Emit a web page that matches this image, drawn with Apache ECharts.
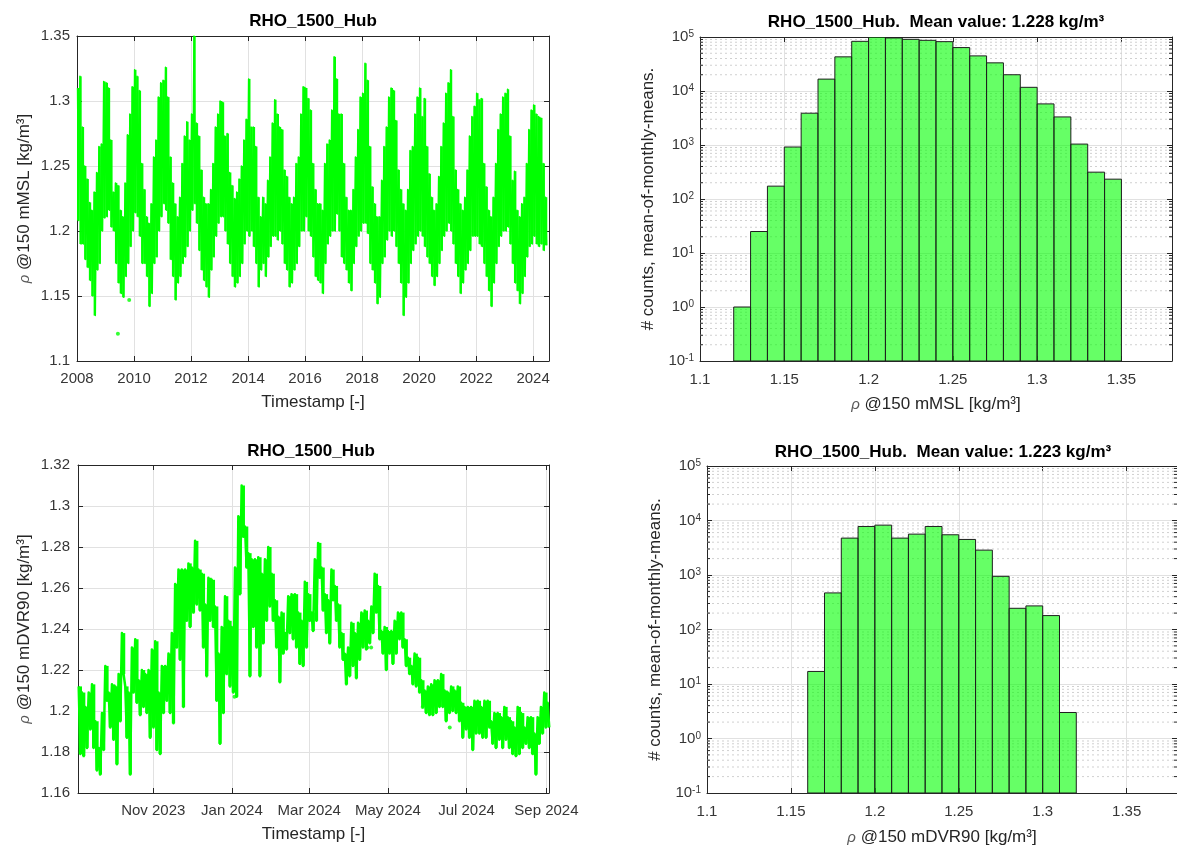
<!DOCTYPE html>
<html>
<head>
<meta charset="utf-8">
<script src="https://cdn.jsdelivr.net/npm/echarts@6/dist/echarts.min.js"></script>
<style>
  html, body { margin: 0; padding: 0; background: #ffffff; }
  #chart { width: 1177px; height: 848px; }
</style>
</head>
<body>
<div id="chart"></div>
<script>
// ---------- Long-term series at 150 mMSL: monthly upper / lower envelope, Jan 2008 onwards ----------
const longStartYear = 2008;
const longHigh = [
  1.310, 1.319, 1.280, 1.250, 1.240, 1.222, 1.216, 1.230, 1.245, 1.265, 1.267, 1.315,
  1.314, 1.310, 1.270, 1.230, 1.237, 1.235, 1.216, 1.211, 1.237, 1.274, 1.290, 1.311,
  1.324, 1.319, 1.308, 1.252, 1.232, 1.211, 1.206, 1.221, 1.257, 1.270, 1.303, 1.314,
  1.316, 1.326, 1.303, 1.257, 1.237, 1.221, 1.211, 1.226, 1.252, 1.273, 1.284, 1.270,
  1.290, 1.350, 1.283, 1.273, 1.247, 1.226, 1.221, 1.221, 1.232, 1.252, 1.280, 1.290,
  1.300, 1.299, 1.273, 1.275, 1.245, 1.235, 1.225, 1.230, 1.240, 1.250, 1.270, 1.286,
  1.317, 1.280, 1.280, 1.265, 1.226, 1.211, 1.226, 1.221, 1.239, 1.257, 1.283, 1.301,
  1.290, 1.280, 1.278, 1.247, 1.242, 1.226, 1.221, 1.226, 1.252, 1.257, 1.290, 1.311,
  1.310, 1.302, 1.293, 1.252, 1.232, 1.221, 1.221, 1.216, 1.252, 1.267, 1.270, 1.293,
  1.334, 1.317, 1.290, 1.290, 1.252, 1.226, 1.216, 1.216, 1.232, 1.257, 1.278, 1.303,
  1.306, 1.329, 1.316, 1.265, 1.234, 1.221, 1.211, 1.211, 1.239, 1.265, 1.280, 1.303,
  1.310, 1.308, 1.285, 1.247, 1.232, 1.221, 1.216, 1.232, 1.262, 1.265, 1.290, 1.303,
  1.310, 1.288, 1.302, 1.265, 1.244, 1.226, 1.216, 1.221, 1.242, 1.265, 1.283, 1.306,
  1.314, 1.324, 1.288, 1.247, 1.232, 1.221, 1.216, 1.226, 1.247, 1.273, 1.288, 1.296,
  1.306, 1.301, 1.302, 1.252, 1.234, 1.216, 1.211, 1.226, 1.252, 1.278, 1.290, 1.303,
  1.306, 1.309, 1.273, 1.239, 1.246, 1.216, 1.211, 1.221, 1.226, 1.252, 1.278, 1.293,
  1.297, 1.290, 1.288, 1.287, 1.252, 1.226
];
const longLow = [
  1.208, 1.190, 1.190, 1.178, 1.172, 1.162, 1.150, 1.135, 1.170, 1.175, 1.200, 1.210,
  1.211, 1.216, 1.203, 1.200, 1.175, 1.160, 1.152, 1.149, 1.165, 1.175, 1.188, 1.200,
  1.214, 1.211, 1.196, 1.175, 1.175, 1.165, 1.142, 1.152, 1.175, 1.180, 1.200, 1.211,
  1.221, 1.216, 1.206, 1.178, 1.165, 1.147, 1.160, 1.165, 1.175, 1.180, 1.188, 1.200,
  1.216, 1.221, 1.206, 1.185, 1.170, 1.162, 1.157, 1.149, 1.170, 1.180, 1.196, 1.206,
  1.211, 1.211, 1.200, 1.190, 1.175, 1.165, 1.157, 1.160, 1.165, 1.175, 1.190, 1.200,
  1.196, 1.200, 1.188, 1.175, 1.157, 1.170, 1.175, 1.165, 1.180, 1.188, 1.196, 1.196,
  1.193, 1.200, 1.190, 1.175, 1.170, 1.157, 1.160, 1.170, 1.175, 1.188, 1.200, 1.200,
  1.211, 1.200, 1.196, 1.180, 1.165, 1.162, 1.160, 1.152, 1.175, 1.190, 1.196, 1.200,
  1.200, 1.213, 1.200, 1.180, 1.175, 1.170, 1.160, 1.154, 1.175, 1.188, 1.196, 1.200,
  1.206, 1.206, 1.198, 1.175, 1.170, 1.160, 1.144, 1.149, 1.175, 1.180, 1.193, 1.200,
  1.196, 1.200, 1.188, 1.175, 1.160, 1.135, 1.149, 1.160, 1.175, 1.185, 1.190, 1.196,
  1.200, 1.196, 1.188, 1.180, 1.175, 1.165, 1.158, 1.165, 1.175, 1.185, 1.196, 1.200,
  1.206, 1.200, 1.190, 1.175, 1.165, 1.152, 1.160, 1.170, 1.175, 1.185, 1.196, 1.196,
  1.196, 1.190, 1.188, 1.175, 1.165, 1.154, 1.142, 1.160, 1.175, 1.188, 1.196, 1.200,
  1.200, 1.203, 1.190, 1.175, 1.160, 1.154, 1.144, 1.152, 1.165, 1.180, 1.188, 1.190,
  1.196, 1.190, 1.188, 1.190, 1.185, 1.189
];
const longOutliers = [['2009-06-08', 1.121], ['2009-10-31', 1.147]];
const longYearTicks = [2008, 2010, 2012, 2014, 2016, 2018, 2020, 2022, 2024];
const longAxisStart = '2008-01-01';
const longAxisEnd = '2024-07-23';
const longYTicks = [1.1, 1.15, 1.2, 1.25, 1.3, 1.35];

// ---------- One-year series at 150 mDVR90: upper / lower envelope on a fixed step ----------
const shortStart = '2023-09-04T03:00:00Z';
const shortStepDays = 2.58;
const shortHigh = [
  1.212, 1.209, 1.202, 1.209, 1.213, 1.195, 1.182, 1.199, 1.222, 1.209,
  1.213, 1.212, 1.218, 1.238, 1.212, 1.209, 1.231, 1.235, 1.215, 1.220,
  1.218, 1.220, 1.230, 1.234, 1.209, 1.222, 1.222, 1.228, 1.238, 1.262,
  1.269, 1.269, 1.269, 1.272, 1.270, 1.283, 1.269, 1.267, 1.252, 1.265,
  1.264, 1.251, 1.228, 1.241, 1.256, 1.244, 1.241, 1.270, 1.295, 1.310,
  1.290, 1.277, 1.274, 1.274, 1.275, 1.267, 1.274, 1.280, 1.267, 1.254,
  1.246, 1.248, 1.238, 1.256, 1.257, 1.257, 1.248, 1.244, 1.263, 1.257,
  1.248, 1.274, 1.282, 1.270, 1.257, 1.254, 1.269, 1.261, 1.252, 1.238,
  1.228, 1.231, 1.243, 1.238, 1.243, 1.248, 1.249, 1.244, 1.251, 1.267,
  1.261, 1.239, 1.241, 1.239, 1.239, 1.244, 1.248, 1.248, 1.235, 1.226,
  1.222, 1.228, 1.226, 1.215, 1.210, 1.212, 1.213, 1.215, 1.215, 1.218,
  1.210, 1.209, 1.212, 1.210, 1.212, 1.204, 1.202, 1.202, 1.202, 1.205,
  1.205, 1.202, 1.205, 1.205, 1.195, 1.199, 1.199, 1.197, 1.202, 1.197,
  1.195, 1.192, 1.202, 1.199, 1.192, 1.197, 1.197, 1.189, 1.197, 1.202,
  1.209, 1.204
];
const shortLow = [
  1.179, 1.178, 1.182, 1.191, 1.182, 1.171, 1.169, 1.181, 1.205, 1.192,
  1.186, 1.174, 1.195, 1.218, 1.187, 1.169, 1.209, 1.204, 1.198, 1.202,
  1.199, 1.187, 1.192, 1.181, 1.179, 1.199, 1.205, 1.199, 1.194, 1.231,
  1.225, 1.202, 1.244, 1.241, 1.248, 1.252, 1.249, 1.231, 1.217, 1.244,
  1.241, 1.205, 1.184, 1.199, 1.218, 1.212, 1.209, 1.207, 1.257, 1.285,
  1.270, 1.217, 1.241, 1.231, 1.217, 1.233, 1.244, 1.251, 1.244, 1.231,
  1.214, 1.228, 1.230, 1.238, 1.235, 1.231, 1.223, 1.222, 1.231, 1.244,
  1.239, 1.244, 1.265, 1.249, 1.238, 1.233, 1.254, 1.244, 1.231, 1.225,
  1.213, 1.217, 1.222, 1.216, 1.225, 1.231, 1.230, 1.233, 1.238, 1.248,
  1.235, 1.228, 1.220, 1.228, 1.223, 1.228, 1.235, 1.231, 1.222, 1.218,
  1.213, 1.212, 1.209, 1.202, 1.199, 1.198, 1.198, 1.199, 1.202, 1.202,
  1.195, 1.199, 1.200, 1.199, 1.195, 1.187, 1.191, 1.187, 1.181, 1.189,
  1.189, 1.187, 1.187, 1.192, 1.184, 1.182, 1.186, 1.182, 1.186, 1.182,
  1.179, 1.178, 1.179, 1.182, 1.184, 1.182, 1.179, 1.169, 1.184, 1.189,
  1.192, 1.192
];
const shortOutliers = [
  ['2024-01-03', 1.207], ['2024-04-15', 1.231], ['2024-04-18', 1.231],
  ['2024-05-28', 1.202], ['2024-06-18', 1.192]
];
const shortAxisStart = '2023-09-03T14:00:00Z';
const shortAxisEnd = '2024-09-03T00:00:00Z';
const shortTickDates = ['2023-11-01', '2024-01-01', '2024-03-01', '2024-05-01', '2024-07-01', '2024-09-01'];
const shortTickLabels = ['Nov 2023', 'Jan 2024', 'Mar 2024', 'May 2024', 'Jul 2024', 'Sep 2024'];
const shortYTicks = [1.16, 1.18, 1.2, 1.22, 1.24, 1.26, 1.28, 1.3, 1.32];

// ---------- Histograms of mean-of-monthly-means ----------
const histBinWidth = 0.01;
const histTopStart = 1.12;
const histTopCounts = [1, 25, 173, 918, 3880, 16600, 42900, 83200, 99500, 96000, 90600, 86800,
                       82000, 63700, 44700, 33200, 20000, 11700, 5770, 3310, 1040, 314, 233];
const histBottomStart = 1.16;
const histBottomCounts = [17, 469, 4750, 7770, 8220, 4750, 5620, 7770, 5470, 4490, 2860, 946,
                          245, 271, 180, 3];
const histXTicks = [1.1, 1.15, 1.2, 1.25, 1.3, 1.35];
const histXMin = 1.1, histXMax = 1.38;
const meanTop = 1.228, meanBottom = 1.223;

// ---------- styling ----------
const FONT = '"Liberation Sans", Arial, Helvetica, sans-serif';
const INK = '#262626';
const LABEL = '#363636';
const GREEN = '#00ff00';
const DAY = 86400000;

// ---------- derived series ----------
// long series: a filled range per month plus a zig-zag trace through the extremes
const longBand = [];
const longLine = [];
longHigh.forEach((h, i) => {
  const y = longStartYear + Math.floor(i / 12), m = i % 12;
  longBand.push([Date.UTC(y, m, 1), Date.UTC(y, m + 1, 1), longLow[i], h]);
  longLine.push([Date.UTC(y, m, 8), h]);
  longLine.push([Date.UTC(y, m, 22), longLow[i]]);
});
const longDots = longOutliers.map(d => [Date.parse(d[0]), d[1]]);
const longTickTs = longYearTicks.map(y => Date.UTC(y, 0, 1));

// one-year series: same idea on the fixed step
const shortBand = [];
const shortLine = [];
const t0 = Date.parse(shortStart);
const stepMs = shortStepDays * DAY;
shortHigh.forEach((h, i) => {
  const t = t0 + i * stepMs;
  shortBand.push([t, t + stepMs, shortLow[i], h]);
  shortLine.push([t, h]);
  shortLine.push([t + stepMs / 2, shortLow[i]]);
});
const shortDots = shortOutliers.map(d => [Date.parse(d[0]), d[1]]);
const shortTickTs = shortTickDates.map(d => Date.parse(d));

function binRows(start, counts) {
  return counts.map((c, i) => {
    const x0 = Math.round((start + i * histBinWidth) * 1000) / 1000;
    return [x0, Math.round((x0 + histBinWidth) * 1000) / 1000, c];
  });
}
// minor decade lines 2..9 x 10^k for the log count axes
const logMinor = [];
for (let k = -1; k <= 4; k++) for (let m = 2; m <= 9; m++) logMinor.push(m * Math.pow(10, k));

const fmtNum = v => String(+(+v).toFixed(2));

const nameStyle = {
  fontSize: 17, fontFamily: FONT, color: INK,
  rich: { r: { fontSize: 15, fontStyle: 'italic', fontFamily: FONT, color: '#5a5a5a' } }
};

function linAxis(o) {
  return {
    type: 'value', gridIndex: o.grid, position: o.pos, min: o.min, max: o.max,
    name: o.name || '', nameLocation: 'middle', nameGap: o.nameGap || 0, nameTextStyle: nameStyle,
    axisLine: { show: true, onZero: false, lineStyle: { color: INK, width: 1 } },
    axisTick: { show: true, inside: true, length: 5, customValues: o.ticks, lineStyle: { color: INK } },
    axisLabel: {
      show: !!o.labels, customValues: o.ticks, formatter: o.fmt || fmtNum,
      margin: o.margin || 10, color: LABEL, fontSize: 15, fontFamily: FONT,
      showMinLabel: true, showMaxLabel: true
    },
    splitLine: { show: !!o.split, lineStyle: { color: '#e1e1e1', width: 1 } }
  };
}

function logAxis(o) {
  return {
    type: 'log', logBase: 10, gridIndex: o.grid, position: o.pos, min: 0.1, max: 100000,
    name: o.name || '', nameLocation: 'middle', nameGap: o.nameGap || 0, nameTextStyle: nameStyle,
    axisLine: { show: true, onZero: false, lineStyle: { color: INK, width: 1 } },
    axisTick: { show: true, inside: true, length: 5, lineStyle: { color: INK } },
    axisLabel: {
      show: !!o.labels, margin: 6,
      formatter: v => '{b|10}{s|' + Math.round(Math.log10(v)) + '}',
      rich: {
        b: { fontSize: 15, lineHeight: 15, fontFamily: FONT, color: LABEL, verticalAlign: 'bottom' },
        s: { fontSize: 10, lineHeight: 10, fontFamily: FONT, color: LABEL, verticalAlign: 'top', padding: [0, 0, 8, 0] }
      }
    },
    splitLine: { show: !!o.split, lineStyle: { color: '#e1e1e1', width: 1 } }
  };
}

function minorGrid(xi, yi) {
  return {
    type: 'custom', xAxisIndex: xi, yAxisIndex: yi, silent: true, z: 1, clip: true,
    data: logMinor.map(v => [histXMin, v]),
    encode: { x: 0, y: 1 },
    renderItem(params, api) {
      const v = api.value(1);
      const a = api.coord([histXMin, v]), b = api.coord([histXMax, v]);
      return {
        type: 'group', children: [
          { type: 'line', shape: { x1: a[0], y1: a[1], x2: b[0], y2: b[1] },
            style: { stroke: '#d0d0d0', lineWidth: 1, lineDash: [2, 3] } },
          { type: 'line', shape: { x1: a[0], y1: a[1], x2: a[0] + 3, y2: a[1] }, style: { stroke: INK, lineWidth: 1 } },
          { type: 'line', shape: { x1: b[0] - 3, y1: b[1], x2: b[0], y2: b[1] }, style: { stroke: INK, lineWidth: 1 } }
        ]
      };
    }
  };
}

function histSeries(xi, yi, rows) {
  return {
    type: 'custom', xAxisIndex: xi, yAxisIndex: yi, z: 3, clip: true,
    data: rows, encode: { x: [0, 1], y: 2 },
    renderItem(params, api) {
      const a = api.coord([api.value(0), api.value(2)]);
      const b = api.coord([api.value(1), 0.1]);
      return {
        type: 'rect',
        shape: { x: a[0], y: a[1], width: b[0] - a[0], height: b[1] - a[1] },
        style: { fill: 'rgba(0,255,0,0.6)', stroke: '#1e1e1e', lineWidth: 1 }
      };
    }
  };
}

// filled low..high range for each time slot
function bandSeries(xi, yi, rows) {
  return {
    type: 'custom', xAxisIndex: xi, yAxisIndex: yi, z: 3, clip: true, silent: true,
    data: rows, encode: { x: [0, 1], y: [2, 3] },
    renderItem(params, api) {
      const a = api.coord([api.value(0), api.value(3)]);
      const b = api.coord([api.value(1), api.value(2)]);
      return {
        type: 'rect',
        shape: { x: a[0], y: a[1], width: Math.max(b[0] - a[0], 1), height: b[1] - a[1] },
        style: { fill: GREEN }
      };
    }
  };
}

const titleStyle = { font: 'bold 17px ' + FONT, fill: '#000000', align: 'center', verticalAlign: 'middle' };

const option = {
  animation: false,
  backgroundColor: '#ffffff',
  grid: [
    { left: 77, top: 36, width: 472, height: 325 },
    { left: 700, top: 37, width: 472, height: 324 },
    { left: 78, top: 465, width: 471, height: 328 },
    { left: 707, top: 466, width: 475, height: 327 }
  ],
  graphic: [
    { type: 'text', x: 313, y: 21, style: Object.assign({ text: 'RHO_1500_Hub' }, titleStyle) },
    { type: 'text', x: 936, y: 22, style: Object.assign({ text: 'RHO_1500_Hub.  Mean value: ' + meanTop.toFixed(3) + ' kg/m³' }, titleStyle) },
    { type: 'text', x: 311, y: 451, style: Object.assign({ text: 'RHO_1500_Hub' }, titleStyle) },
    { type: 'text', x: 943, y: 452, style: Object.assign({ text: 'RHO_1500_Hub.  Mean value: ' + meanBottom.toFixed(3) + ' kg/m³' }, titleStyle) }
  ],
  xAxis: [
    linAxis({ grid: 0, pos: 'bottom', min: Date.parse(longAxisStart), max: Date.parse(longAxisEnd),
              ticks: longTickTs, labels: true, split: true, margin: 10,
              fmt: v => String(new Date(v).getUTCFullYear()),
              name: 'Timestamp [-]', nameGap: 33 }),
    linAxis({ grid: 0, pos: 'top', min: Date.parse(longAxisStart), max: Date.parse(longAxisEnd), ticks: longTickTs }),
    linAxis({ grid: 1, pos: 'bottom', min: histXMin, max: histXMax, ticks: histXTicks, labels: true, split: true,
              margin: 11, name: '{r|ρ} @150 mMSL [kg/m³]', nameGap: 35 }),
    linAxis({ grid: 1, pos: 'top', min: histXMin, max: histXMax, ticks: histXTicks }),
    linAxis({ grid: 2, pos: 'bottom', min: Date.parse(shortAxisStart), max: Date.parse(shortAxisEnd),
              ticks: shortTickTs, labels: true, split: true, margin: 10,
              fmt: v => shortTickLabels[shortTickTs.indexOf(v)] || '',
              name: 'Timestamp [-]', nameGap: 33 }),
    linAxis({ grid: 2, pos: 'top', min: Date.parse(shortAxisStart), max: Date.parse(shortAxisEnd), ticks: shortTickTs }),
    linAxis({ grid: 3, pos: 'bottom', min: histXMin, max: histXMax, ticks: histXTicks, labels: true, split: true,
              margin: 11, name: '{r|ρ} @150 mDVR90 [kg/m³]', nameGap: 36 }),
    linAxis({ grid: 3, pos: 'top', min: histXMin, max: histXMax, ticks: histXTicks })
  ],
  yAxis: [
    linAxis({ grid: 0, pos: 'left', min: 1.1, max: 1.35, ticks: longYTicks, labels: true, split: true, margin: 7,
              name: '{r|ρ} @150 mMSL [kg/m³]', nameGap: 44 }),
    linAxis({ grid: 0, pos: 'right', min: 1.1, max: 1.35, ticks: longYTicks }),
    logAxis({ grid: 1, pos: 'left', labels: true, split: true, name: '# counts, mean-of-monthly-means.', nameGap: 43 }),
    logAxis({ grid: 1, pos: 'right' }),
    linAxis({ grid: 2, pos: 'left', min: 1.16, max: 1.32, ticks: shortYTicks, labels: true, split: true, margin: 8,
              name: '{r|ρ} @150 mDVR90 [kg/m³]', nameGap: 45 }),
    linAxis({ grid: 2, pos: 'right', min: 1.16, max: 1.32, ticks: shortYTicks }),
    logAxis({ grid: 3, pos: 'left', labels: true, split: true, name: '# counts, mean-of-monthly-means.', nameGap: 43 }),
    logAxis({ grid: 3, pos: 'right' })
  ],
  series: [
    bandSeries(0, 0, longBand),
    { type: 'line', xAxisIndex: 0, yAxisIndex: 0, data: longLine, showSymbol: false, z: 3,
      lineStyle: { color: GREEN, width: 1.5, join: 'round' }, itemStyle: { color: GREEN } },
    { type: 'scatter', xAxisIndex: 0, yAxisIndex: 0, data: longDots, symbolSize: 4, z: 3,
      itemStyle: { color: GREEN } },
    minorGrid(2, 2),
    histSeries(2, 2, binRows(histTopStart, histTopCounts)),
    bandSeries(4, 4, shortBand),
    { type: 'line', xAxisIndex: 4, yAxisIndex: 4, data: shortLine, showSymbol: false, z: 3,
      lineStyle: { color: GREEN, width: 2.5, join: 'round' }, itemStyle: { color: GREEN } },
    { type: 'scatter', xAxisIndex: 4, yAxisIndex: 4, data: shortDots, symbolSize: 4, z: 3,
      itemStyle: { color: GREEN } },
    minorGrid(6, 6),
    histSeries(6, 6, binRows(histBottomStart, histBottomCounts))
  ]
};

const chart = echarts.init(document.getElementById('chart'), null, { renderer: 'canvas' });
chart.setOption(option);
</script>
</body>
</html>
